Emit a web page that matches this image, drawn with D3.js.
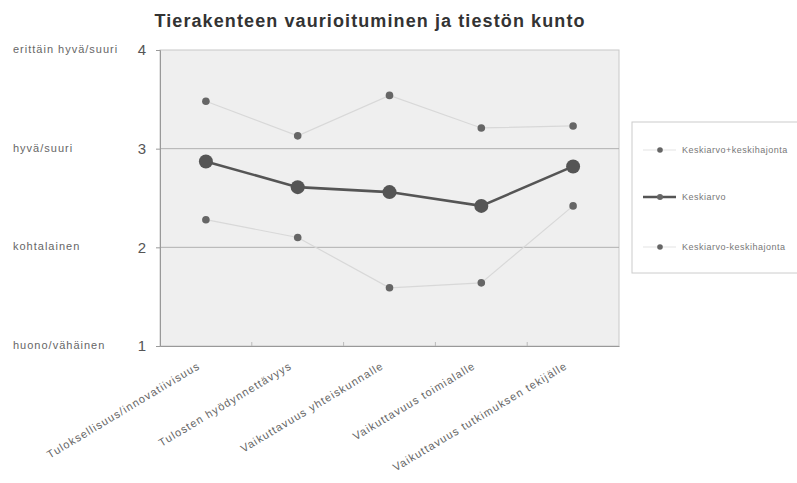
<!DOCTYPE html>
<html>
<head>
<meta charset="utf-8">
<script src="https://cdn.jsdelivr.net/npm/d3@7/dist/d3.min.js"></script>
<style>
  html, body { margin: 0; padding: 0; background: #fff; }
  svg { display: block; font-family: "Liberation Sans", Arial, sans-serif; }
</style>
</head>
<body>
<svg id="chart" width="797" height="483"></svg>
<script>
// Categories and series
const categories = [
  "Tuloksellisuus/innovatiivisuus",
  "Tulosten hyödynnettävyys",
  "Vaikuttavuus yhteiskunnalle",
  "Vaikuttavuus toimialalle",
  "Vaikuttavuus tutkimuksen tekijälle"
];
const upperValues = [3.48, 3.13, 3.54, 3.21, 3.23];
const meanValues  = [2.87, 2.61, 2.56, 2.42, 2.82];
const lowerValues = [2.28, 2.10, 1.59, 1.64, 2.42];
const yTicks = [1, 2, 3, 4];
const yTickNames = ["huono/vähäinen", "kohtalainen", "hyvä/suuri", "erittäin hyvä/suuri"];
const seriesNames = ["Keskiarvo+keskihajonta", "Keskiarvo", "Keskiarvo-keskihajonta"];
const title = "Tierakenteen vaurioituminen ja tiestön kunto";

const svg = d3.select("#chart");
const plot = { left: 160, top: 50, right: 619, bottom: 346 };

const x = d3.scaleBand().domain(categories).range([plot.left, plot.right]).padding(0);
const y = d3.scaleLinear().domain([1, 4]).range([plot.bottom, plot.top]);
const cx = d => x(d) + x.bandwidth() / 2;

// Title
svg.append("text")
  .attr("x", 370).attr("y", 27)
  .attr("text-anchor", "middle")
  .attr("font-size", 18).attr("font-weight", "bold")
  .attr("letter-spacing", 1.1)
  .attr("fill", "#333")
  .text(title);

// Plot background
svg.append("rect")
  .attr("x", plot.left).attr("y", plot.top)
  .attr("width", plot.right - plot.left).attr("height", plot.bottom - plot.top)
  .attr("fill", "#efefef").attr("stroke", "#c8c8c8");

// Gridlines
svg.append("g").selectAll("line").data([2, 3]).join("line")
  .attr("x1", plot.left).attr("x2", plot.right)
  .attr("y1", d => y(d)).attr("y2", d => y(d))
  .attr("stroke", "#b0b0b0").attr("stroke-width", 1);

// Y axis
const yAxis = svg.append("g")
  .attr("transform", `translate(${plot.left},0)`)
  .call(d3.axisLeft(y).tickValues(yTicks).tickFormat(d3.format("d")).tickSize(4).tickPadding(10));
yAxis.select(".domain").attr("stroke", "#999");
yAxis.selectAll(".tick line").attr("stroke", "#999");
yAxis.selectAll(".tick text").attr("font-size", 15).attr("fill", "#555")
  .attr("font-family", "'Liberation Sans', Arial, sans-serif");

// Verbal scale names
svg.append("g").selectAll("text").data(yTicks).join("text")
  .attr("x", 13).attr("y", d => y(d) + 3)
  .attr("font-size", 11).attr("letter-spacing", 1)
  .attr("fill", "#666")
  .text((d, i) => yTickNames[i]);

// X axis
const xAxis = svg.append("g")
  .attr("transform", `translate(0,${plot.bottom})`)
  .call(d3.axisBottom(x).tickSize(0).tickPadding(0));
xAxis.select(".domain").attr("stroke", "#999");
xAxis.selectAll(".tick text").remove();
svg.append("g").selectAll("line").data(categories.slice(1)).join("line")
  .attr("x1", d => x(d)).attr("x2", d => x(d))
  .attr("y1", plot.bottom).attr("y2", plot.bottom - 4)
  .attr("stroke", "#bbb");

// Rotated category labels
svg.append("g").selectAll("text").data(categories).join("text")
  .attr("transform", d => `translate(${cx(d) - 5},${plot.bottom + 22}) rotate(-31)`)
  .attr("text-anchor", "end")
  .attr("font-size", 11).attr("letter-spacing", 1.1)
  .attr("fill", "#666")
  .text(d => d);

// Series lines
const line = d3.line().x((d, i) => cx(categories[i])).y(d => y(d));

[upperValues, lowerValues].forEach(vals => {
  svg.append("path").datum(vals)
    .attr("d", line).attr("fill", "none")
    .attr("stroke", "#d8d8d8").attr("stroke-width", 1.2);
  svg.append("g").selectAll("circle").data(vals).join("circle")
    .attr("cx", (d, i) => cx(categories[i])).attr("cy", d => y(d))
    .attr("r", 3.8).attr("fill", "#666");
});

svg.append("path").datum(meanValues)
  .attr("d", line).attr("fill", "none")
  .attr("stroke", "#555").attr("stroke-width", 2.6);
svg.append("g").selectAll("circle").data(meanValues).join("circle")
  .attr("cx", (d, i) => cx(categories[i])).attr("cy", d => y(d))
  .attr("r", 7).attr("fill", "#555");

// Legend
const lg = svg.append("g");
lg.append("rect")
  .attr("x", 632).attr("y", 122).attr("width", 180).attr("height", 151)
  .attr("fill", "#fff").attr("stroke", "#ccc");
const legendY = [150, 197, 247];
seriesNames.forEach((name, i) => {
  const ly = legendY[i];
  const isMean = i === 1;
  lg.append("line")
    .attr("x1", 643).attr("x2", 676).attr("y1", ly).attr("y2", ly)
    .attr("stroke", isMean ? "#555" : "#e4e4e4").attr("stroke-width", isMean ? 2.6 : 1.2);
  lg.append("circle")
    .attr("cx", 660).attr("cy", ly).attr("r", isMean ? 3 : 2.8).attr("fill", "#666");
  lg.append("text")
    .attr("x", 682).attr("y", ly + 3)
    .attr("font-size", 9).attr("letter-spacing", 0.5)
    .attr("fill", "#777")
    .text(name);
});
</script>
</body>
</html>
